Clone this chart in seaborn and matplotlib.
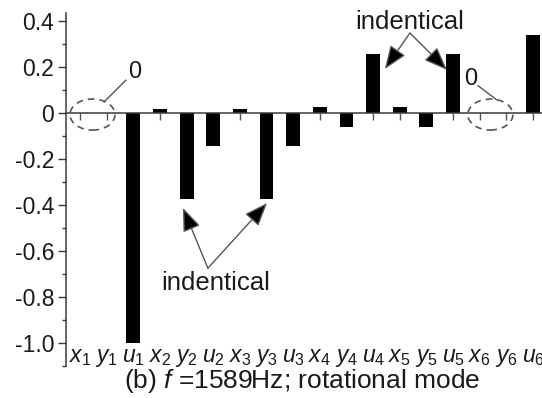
import matplotlib
matplotlib.use("Agg")
import matplotlib.pyplot as plt
import seaborn as sns
import pandas as pd
from matplotlib.patches import Ellipse
from matplotlib.ticker import MultipleLocator

sns.set_theme(style="ticks")
plt.rcParams["font.family"] = ["Liberation Sans", "DejaVu Sans"]
plt.rcParams["mathtext.fontset"] = "custom"
plt.rcParams["mathtext.rm"] = "Liberation Sans"
plt.rcParams["mathtext.it"] = "Liberation Sans:italic"
plt.rcParams["axes.unicode_minus"] = False

# Degrees of freedom of the six nodes and their normalised mode amplitudes
dofs = ["x1", "y1", "u1", "x2", "y2", "u2", "x3", "y3", "u3",
        "x4", "y4", "u4", "x5", "y5", "u5", "x6", "y6", "u6"]
dof_labels = [r"$x_1$", r"$y_1$", r"$u_1$", r"$x_2$", r"$y_2$", r"$u_2$",
              r"$x_3$", r"$y_3$", r"$u_3$", r"$x_4$", r"$y_4$", r"$u_4$",
              r"$x_5$", r"$y_5$", r"$u_5$", r"$x_6$", r"$y_6$", r"$u_6$"]
amplitudes = [0.0, 0.0, -1.0, 0.016, -0.376, -0.146, 0.016, -0.376, -0.146,
              0.023, -0.064, 0.256, 0.023, -0.064, 0.256, 0.0, 0.0, 0.337]
ytick_values = [-1.0, -0.8, -0.6, -0.4, -0.2, 0.0, 0.2, 0.4]
ytick_labels = ["-1.0", "-0.8", "-0.6", "-0.4", "-0.2", "0", "0.2", "0.4"]
caption = r"(b) $f$ =1589Hz; rotational mode"

df = pd.DataFrame({"dof": dofs, "amp": amplitudes})

W, H = 542, 398
fig = plt.figure(figsize=(W / 100, H / 100), dpi=100)
ax = fig.add_axes([66 / W, 32.3 / H, 483 / W, 352.7 / H])

sns.barplot(data=df, x="dof", y="amp", order=dofs, color="black",
            saturation=1, width=0.52, linewidth=0, ax=ax)

ax.set_xlim(-0.525, 17.6)
ax.set_ylim(-1.1, 0.4335)
ax.set_xlabel("")
ax.set_ylabel("")

# zero line acts as the x axis
for side in ("top", "right"):
    ax.spines[side].set_visible(False)
ax.spines["bottom"].set_position(("data", 0))
ax.spines["bottom"].set_color("#3a3a3a")
ax.spines["bottom"].set_linewidth(1.1)
ax.spines["left"].set_color("#3a3a3a")
ax.spines["left"].set_linewidth(1.1)

ax.set_yticks(ytick_values, ytick_labels)
ax.yaxis.set_minor_locator(MultipleLocator(0.1))
ax.tick_params(axis="y", which="major", direction="out", length=5.5,
               width=1, color="#3a3a3a", labelsize=16.5, pad=3,
               labelcolor="#1a1a1a")
ax.tick_params(axis="y", which="minor", direction="out", length=3,
               width=1, color="#3a3a3a")
ax.tick_params(axis="x", which="major", direction="out", length=5,
               width=1, color="#555555", labelbottom=False)

# degree-of-freedom labels along the bottom of the plot
for i, lab in enumerate(dof_labels):
    ax.text(i, -1.084, lab, ha="center", va="baseline", fontsize=16.5,
            color="#1a1a1a")

fig.text(302 / W, 10 / H, caption, ha="center", va="baseline",
         fontsize=19, color="#1a1a1a")

# dashed ellipses marking the zero components
for cx in (0.469, 15.40):
    ax.add_patch(Ellipse((cx, -0.008), 1.69, 0.135, fill=False,
                         ls=(0, (4, 3)), ec="#555555", lw=1.2,
                         clip_on=False, zorder=5))

ax.text(2.06, 0.151, "0", ha="center", va="baseline", fontsize=17,
        color="#1a1a1a")
ax.plot([1.726, 0.90], [0.142, 0.0465], color="#555555", lw=1)
ax.text(14.67, 0.12, "0", ha="center", va="baseline", fontsize=17,
        color="#1a1a1a")
ax.plot([14.93, 15.65], [0.118, 0.055], color="#555555", lw=1)

arrow_kw = dict(arrowstyle="-|>,head_length=0.9,head_width=0.35",
                fc="black", ec="#555555", lw=1, shrinkA=0, shrinkB=0,
                mutation_scale=16)

# top "indentical" annotation (u4 and u5)
ax.text(12.38, 0.3626, "indentical", ha="center", va="baseline",
        fontsize=18.5, color="#1a1a1a")
for tip in ((11.44, 0.19), (13.77, 0.186)):
    ax.annotate("", xy=tip, xytext=(12.38, 0.3465), arrowprops=arrow_kw)

# bottom "indentical" annotation (y2 and y3)
ax.text(5.10, -0.771, "indentical", ha="center", va="baseline",
        fontsize=18.5, color="#1a1a1a")
for tip in ((3.865, -0.414), (7.02, -0.393)):
    ax.annotate("", xy=tip, xytext=(4.80, -0.676), arrowprops=arrow_kw)

fig.savefig("out.png", dpi=100)
